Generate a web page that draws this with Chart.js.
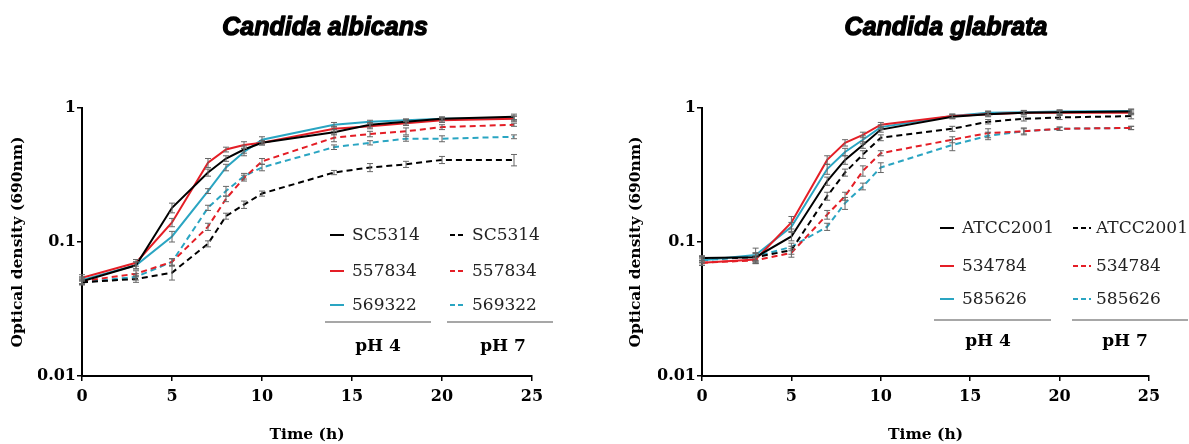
<!DOCTYPE html>
<html>
<head>
<meta charset="utf-8">
<script src="https://cdn.jsdelivr.net/npm/chart.js@4.4.1/dist/chart.umd.min.js"></script>
<style>
  html, body { margin: 0; padding: 0; background: #fff; }
  .wrap { position: relative; width: 1189px; height: 444px; }
  .panel { position: absolute; top: 0; height: 444px; }
  #albicansPanel { left: 0; width: 594px; }
  #glabrataPanel { left: 594px; width: 595px; }
</style>
</head>
<body>
<div class="wrap">
  <div class="panel" id="albicansPanel"><canvas id="albicansChart" width="594" height="444"></canvas></div>
  <div class="panel" id="glabrataPanel"><canvas id="glabrataChart" width="595" height="444"></canvas></div>
</div>
<script>
// ==================== DATA ====================

const times = [0, 3, 5, 7, 8, 9, 10, 14, 16, 18, 20, 24];
const xTicks = [0, 5, 10, 15, 20, 25];
const yTicks = [0.01, 0.1, 1];

// Candida albicans
const albicansStrains = ["SC5314", "557834", "569322"];
const sc5314Ph4 = [0.051, 0.067, 0.18, 0.33, 0.42, 0.49, 0.55, 0.66, 0.75, 0.79, 0.83, 0.86];
const ca557834Ph4 = [0.054, 0.07, 0.14, 0.39, 0.49, 0.53, 0.55, 0.7, 0.73, 0.77, 0.81, 0.83];
const ca569322Ph4 = [0.052, 0.067, 0.11, 0.24, 0.36, 0.47, 0.58, 0.75, 0.79, 0.81, 0.83, 0.84];
const sc5314Ph7 = [0.05, 0.053, 0.059, 0.097, 0.156, 0.19, 0.23, 0.33, 0.36, 0.38, 0.41, 0.41];
const ca557834Ph7 = [0.051, 0.058, 0.071, 0.13, 0.21, 0.3, 0.4, 0.6, 0.64, 0.67, 0.72, 0.75];
const ca569322Ph7 = [0.05, 0.055, 0.071, 0.18, 0.24, 0.31, 0.36, 0.51, 0.55, 0.59, 0.59, 0.61];

const sc5314Ph4Err = [0.003, 0.004, 0.015, 0.02, 0.02, 0.03, 0.02, 0.03, 0.03, 0.03, 0.03, 0.04];
const ca557834Ph4Err = [0.003, 0.004, 0.01, 0.03, 0.02, 0.03, 0.02, 0.03, 0.03, 0.03, 0.03, 0.04];
const ca569322Ph4Err = [0.003, 0.004, 0.01, 0.01, 0.02, 0.03, 0.03, 0.03, 0.02, 0.02, 0.02, 0.03];
const sc5314Ph7Err = [0.002, 0.003, 0.007, 0.005, 0.008, 0.012, 0.01, 0.012, 0.025, 0.02, 0.025, 0.04];
const ca557834Ph7Err = [0.002, 0.003, 0.004, 0.008, 0.01, 0.015, 0.02, 0.04, 0.03, 0.04, 0.03, 0.02];
const ca569322Ph7Err = [0.002, 0.003, 0.004, 0.008, 0.02, 0.015, 0.02, 0.02, 0.02, 0.025, 0.03, 0.02];

// Candida glabrata
const glabrataStrains = ["ATCC2001", "534784", "585626"];
const atcc2001Ph4 = [0.076, 0.077, 0.11, 0.285, 0.41, 0.53, 0.69, 0.86, 0.9, 0.92, 0.93, 0.94];
const cg534784Ph4 = [0.07, 0.074, 0.14, 0.41, 0.55, 0.63, 0.75, 0.87, 0.9, 0.92, 0.92, 0.92];
const cg585626Ph4 = [0.073, 0.08, 0.13, 0.35, 0.47, 0.58, 0.72, 0.87, 0.92, 0.93, 0.94, 0.95];
const atcc2001Ph7 = [0.075, 0.077, 0.087, 0.22, 0.33, 0.45, 0.6, 0.7, 0.79, 0.83, 0.85, 0.87];
const cg534784Ph7 = [0.07, 0.073, 0.083, 0.16, 0.22, 0.34, 0.46, 0.58, 0.65, 0.67, 0.7, 0.71];
const cg585626Ph7 = [0.073, 0.078, 0.092, 0.13, 0.195, 0.26, 0.36, 0.53, 0.62, 0.67, 0.7, 0.71];

const atcc2001Ph4Err = [0.003, 0.006, 0.008, 0.02, 0.03, 0.03, 0.03, 0.03, 0.04, 0.03, 0.03, 0.04];
const cg534784Ph4Err = [0.003, 0.005, 0.015, 0.03, 0.03, 0.03, 0.03, 0.03, 0.03, 0.03, 0.03, 0.03];
const cg585626Ph4Err = [0.003, 0.01, 0.01, 0.03, 0.03, 0.04, 0.03, 0.03, 0.03, 0.03, 0.03, 0.03];
const atcc2001Ph7Err = [0.003, 0.005, 0.006, 0.015, 0.02, 0.03, 0.03, 0.03, 0.03, 0.03, 0.03, 0.04];
const cg534784Ph7Err = [0.003, 0.004, 0.006, 0.012, 0.015, 0.03, 0.02, 0.03, 0.05, 0.04, 0.02, 0.02];
const cg585626Ph7Err = [0.003, 0.005, 0.006, 0.008, 0.02, 0.015, 0.03, 0.05, 0.04, 0.03, 0.02, 0.02];

const strainColors = ["#000000", "#e41e26", "#2aa5c2"];
const phLabels = ["pH 4", "pH 7"];

const SERIF = "'DejaVu Serif', 'Liberation Serif', serif";

// ==================== HELPERS ====================

function toPoints(values) {
  return values.map((v, i) => ({ x: times[i], y: v }));
}

function buildDatasets(strains, ph4, ph7, ph4Err, ph7Err) {
  const sets = [];
  strains.forEach((name, i) => {
    sets.push({
      label: name,
      data: toPoints(ph4[i]),
      errors: ph4Err[i],
      borderColor: strainColors[i],
      borderWidth: 2,
      borderDash: [],
      pointRadius: 0,
      tension: 0,
      fill: false,
    });
  });
  strains.forEach((name, i) => {
    sets.push({
      label: name,
      data: toPoints(ph7[i]),
      errors: ph7Err[i],
      borderColor: strainColors[i],
      borderWidth: 2,
      borderDash: [6, 4],
      pointRadius: 0,
      tension: 0,
      fill: false,
    });
  });
  return sets;
}

// error bars drawn over the lines
const errorBarPlugin = {
  id: "errorBars",
  afterDatasetsDraw(chart) {
    const ctx = chart.ctx;
    const xs = chart.scales.x;
    const ys = chart.scales.y;
    ctx.save();
    ctx.strokeStyle = "#666";
    ctx.lineWidth = 1;
    chart.data.datasets.forEach((ds) => {
      ds.data.forEach((p, i) => {
        const e = ds.errors[i];
        const px = xs.getPixelForValue(p.x);
        const top = ys.getPixelForValue(p.y + e);
        const bot = ys.getPixelForValue(Math.max(p.y - e, 0.011));
        ctx.beginPath();
        ctx.moveTo(px, top);
        ctx.lineTo(px, bot);
        ctx.moveTo(px - 3, top);
        ctx.lineTo(px + 3, top);
        ctx.moveTo(px - 3, bot);
        ctx.lineTo(px + 3, bot);
        ctx.stroke();
      });
    });
    ctx.restore();
  },
};

// titles, axis titles and the two-column legend
const decorPlugin = {
  id: "decor",
  afterDraw(chart, args, opts) {
    const ctx = chart.ctx;
    const area = chart.chartArea;
    ctx.save();
    ctx.fillStyle = "#000";
    ctx.strokeStyle = "#000";
    ctx.textAlign = "center";
    ctx.textBaseline = "middle";

    // Title (stroked a little to look heavier)
    ctx.font = "italic bold 25px 'Liberation Sans', Arial, sans-serif";
    ctx.lineWidth = 1.3;
    ctx.lineJoin = "round";
    ctx.fillText(opts.title, opts.titleX, 28);
    ctx.strokeText(opts.title, opts.titleX, 28);

    // Y title
    ctx.save();
    ctx.translate(opts.yTitleX, (area.top + area.bottom) / 2);
    ctx.rotate(-Math.PI / 2);
    ctx.font = "bold 15.5px " + SERIF;
    ctx.fillText("Optical density (690nm)", 0, 0);
    ctx.restore();

    // X title
    ctx.font = "bold 15.5px " + SERIF;
    ctx.fillText("Time (h)", (area.left + area.right) / 2, 435);

    // Legend
    const lg = opts.legend;
    ctx.textAlign = "left";
    ctx.font = "17px " + SERIF;
    chart.data.datasets.forEach((ds, i) => {
      const col = i < 3 ? 0 : 1;
      const row = i % 3;
      const y = lg.rowY[row];
      const [x0, x1] = lg.sample[col];
      ctx.save();
      ctx.strokeStyle = ds.borderColor;
      ctx.lineWidth = 2;
      ctx.setLineDash(col === 0 ? [] : [5, 3]);
      ctx.beginPath();
      ctx.moveTo(x0, y);
      ctx.lineTo(x1, y);
      ctx.stroke();
      ctx.restore();
      ctx.fillStyle = "#222";
      ctx.fillText(ds.label, lg.textX[col], y + 1);
    });

    // group rules and pH labels
    ctx.strokeStyle = "#8a8a8a";
    ctx.lineWidth = 1.5;
    lg.rule.forEach(([a, b]) => {
      ctx.beginPath();
      ctx.moveTo(a, lg.ruleY);
      ctx.lineTo(b, lg.ruleY);
      ctx.stroke();
    });
    ctx.fillStyle = "#000";
    ctx.textAlign = "center";
    ctx.font = "bold 17px " + SERIF;
    phLabels.forEach((t, c) => {
      ctx.fillText(t, lg.phX[c], lg.phY);
    });
    ctx.restore();
  },
};

function makeChart(canvasId, datasets, padding, decor) {
  const ctx = document.getElementById(canvasId);
  const tickFont = { family: SERIF, size: 16, weight: "bold" };
  return new Chart(ctx, {
    type: "line",
    data: { datasets: datasets },
    options: {
      responsive: false,
      animation: false,
      devicePixelRatio: 1,
      layout: { padding: padding },
      plugins: {
        legend: { display: false },
        tooltip: { enabled: false },
        decor: decor,
      },
      scales: {
        x: {
          type: "linear",
          min: 0,
          max: 25,
          afterBuildTicks: (s) => {
            s.ticks = xTicks.map((v) => ({ value: v }));
          },
          afterFit: (s) => {
            s.height = 30;
          },
          ticks: {
            color: "#000",
            font: tickFont,
            padding: 6,
            maxRotation: 0,
          },
          grid: {
            drawOnChartArea: false,
            drawTicks: true,
            tickLength: 5,
            color: "#000",
            lineWidth: 1.5,
          },
          border: { display: true, color: "#000", width: 2 },
        },
        y: {
          type: "logarithmic",
          min: 0.01,
          max: 1,
          afterBuildTicks: (s) => {
            s.ticks = yTicks.map((v) => ({ value: v }));
          },
          afterFit: (s) => {
            s.width = 44;
          },
          ticks: {
            color: "#000",
            font: tickFont,
            padding: 1,
            callback: (v) => String(v),
          },
          grid: {
            drawOnChartArea: false,
            drawTicks: true,
            tickLength: 5,
            color: "#000",
            lineWidth: 1.5,
          },
          border: { display: true, color: "#000", width: 2 },
        },
      },
    },
    plugins: [errorBarPlugin, decorPlugin],
  });
}

// ==================== RENDER CHARTS ====================

makeChart(
  "albicansChart",
  buildDatasets(
    albicansStrains,
    [sc5314Ph4, ca557834Ph4, ca569322Ph4],
    [sc5314Ph7, ca557834Ph7, ca569322Ph7],
    [sc5314Ph4Err, ca557834Ph4Err, ca569322Ph4Err],
    [sc5314Ph7Err, ca557834Ph7Err, ca569322Ph7Err]
  ),
  { left: 38, right: 62, top: 108, bottom: 38 },
  {
    title: "Candida albicans",
    titleX: 325,
    yTitleX: 18,
    legend: {
      rowY: [235, 271, 305],
      sample: [[330, 344], [450, 466]],
      textX: [352, 472],
      rule: [[325, 431], [447, 553]],
      ruleY: 322,
      phX: [378, 503],
      phY: 347,
    },
  }
);

makeChart(
  "glabrataChart",
  buildDatasets(
    glabrataStrains,
    [atcc2001Ph4, cg534784Ph4, cg585626Ph4],
    [atcc2001Ph7, cg534784Ph7, cg585626Ph7],
    [atcc2001Ph4Err, cg534784Ph4Err, cg585626Ph4Err],
    [atcc2001Ph7Err, cg534784Ph7Err, cg585626Ph7Err]
  ),
  { left: 64, right: 40, top: 108, bottom: 38 },
  {
    title: "Candida glabrata",
    titleX: 352,
    yTitleX: 42,
    legend: {
      rowY: [228, 266, 299],
      sample: [[346, 360], [479, 497]],
      textX: [368, 502],
      rule: [[340, 457], [478, 594]],
      ruleY: 320,
      phX: [394, 531],
      phY: 342,
    },
  }
);
</script>
</body>
</html>
